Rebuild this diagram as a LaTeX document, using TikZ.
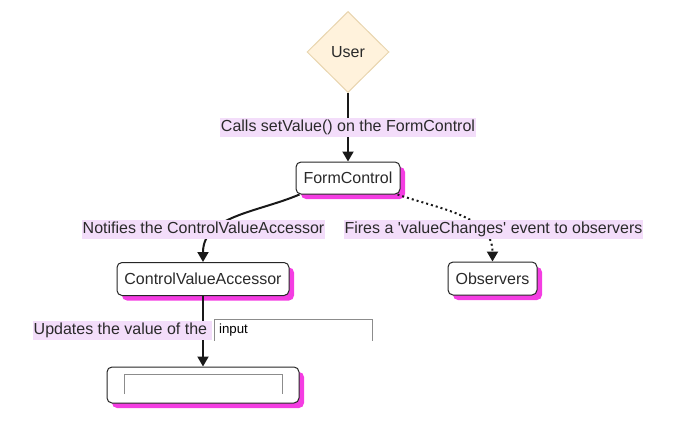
\documentclass[tikz,border=0pt]{standalone}
\usepackage{fontspec}
\setmainfont{Liberation Sans}[Ligatures=TeXOff]
\usepackage{xcolor}
\usetikzlibrary{positioning, arrows.meta, shapes.geometric, shadows, calc}

\definecolor{userfill}{HTML}{FFF2DC}
\definecolor{userline}{HTML}{E8D5AE}
\definecolor{lblbg}{HTML}{F3DDFA}
\definecolor{shadowmag}{HTML}{F43DE2}
\definecolor{txt}{HTML}{2A2A2A}

\begin{document}
\begin{tikzpicture}[x=1pt, y=-1pt,
  font=\fontsize{16}{19}\selectfont, text=txt,
  box/.style={draw=black!85, line width=1pt, rounded corners=5pt, fill=white, minimum height=33pt,
    general shadow={shadow xshift=5pt, shadow yshift=-5pt, fill=shadowmag}},
  decision/.style={diamond, draw=userline, fill=userfill, line width=1pt, minimum width=82pt, minimum height=81pt, inner sep=0pt},
  lbl/.style={fill=lblbg, inner xsep=0.5pt, inner ysep=2pt, text height=11.5pt, text depth=3.5pt},
  edge/.style={draw=black!90, line width=2pt, -{Triangle[length=10pt,width=11pt]}},
  dots/.style={dash pattern=on 2pt off 3pt},
  inputbox/.style={fill=white, minimum height=21pt, text width=149pt, inner xsep=4pt, align=left, text=black, font=\fontsize{13.3}{16}\selectfont},
  inpline/.style={draw=black!45, line width=1pt}
]
\useasboundingbox (0,0) rectangle (691,428);

% nodes
\node[decision] (user) at (348,52) {User};
\node[box, minimum width=104pt, minimum height=32pt] (fc) at (348,178) {FormControl};
\node[box, minimum width=172pt] (cva) at (203,279) {ControlValueAccessor};
\node[box, minimum width=89pt] (obs) at (492.5,278.5) {Observers};
\node[box, minimum width=192pt, minimum height=36pt] (inp) at (203,385) {};
\draw[inpline] ($(inp.center)+(-79,9)$) |- ($(inp.center)+(79,-11)$) -- ++(0,20);

% edges
\draw[edge] (user) -- node[lbl] (callslbl) {Calls setValue() on the FormControl} (fc);
\draw[edge] ([xshift=4pt]fc.south west) to[out=203, in=90] (cva.north);
\draw[edge, dots] ([xshift=-3pt]fc.south east) to[out=-19, in=90] (obs.north);
\draw[edge] (cva) -- (inp);

% edge labels
\node[lbl] (notiflbl) at (203.5,229.5) {Notifies the ControlValueAccessor};
\node[lbl] (fireslbl) at (493.5,229.5) {Fires a 'valueChanges' event to observers};
\node[lbl, anchor=west] (updlbl) at (33,330) {Updates the value of the\kern4.5pt};
\node[inputbox, right=2.5pt of updlbl] (inbox) {input};
\draw[inpline] (inbox.south west) |- (inbox.north east) -- (inbox.south east);
\end{tikzpicture}
\end{document}
